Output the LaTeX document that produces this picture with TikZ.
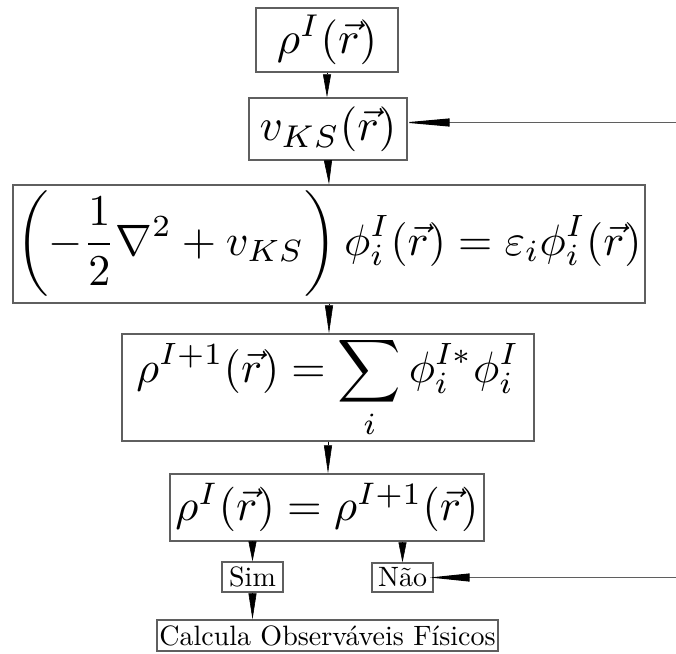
\documentclass[tikz,border=0pt]{standalone}
\usepackage{amsmath}
\usepackage{graphicx}
\usetikzlibrary{arrows.meta}
\definecolor{boxgray}{RGB}{95,95,95}
\newcommand\scmath[2]{\scalebox{#1}{#2}}
\newcommand\sctext[1]{\scalebox{2.8}{#1}}
\tikzset{
  box/.style={draw=boxgray, line width=1.4pt, inner sep=0pt, align=center},
  varr/.style={-{Triangle[length=#1,width=8pt,color=black]}, line width=0.6pt, black},
  varr/.default=24pt,
  harr/.style={-{Triangle[length=#1,width=8pt,color=black]}, line width=1pt, boxgray, shorten >=-4pt},
}
\begin{document}
\begin{tikzpicture}[x=1pt,y=-1pt]
\useasboundingbox (0,0) rectangle (676,653);
\node[box, minimum width=142pt, minimum height=64pt] (b1) at (327,40) {\scmath{4.5}{$\rho^I(\vec r)$}};
\node[box, minimum width=158pt, minimum height=62pt] (b2) at (328,129) {\scmath{4.5}{$v_{KS}(\vec r)$}};
\node[box, minimum width=632pt, minimum height=118pt] (b3) at (329,244) {\scmath{4.4}{$\displaystyle\left(-\frac{1}{2}\nabla^2+v_{KS}\right)\phi_i^I(\vec r)=\varepsilon_i\phi_i^I(\vec r)$}};
\node[box, minimum width=412pt, minimum height=107pt] (b4) at (328,387.5) {\scmath{4.4}{$\displaystyle\rho^{I+1}(\vec r)=\sum_i\phi_i^{I*}\phi_i^I$}};
\node[box, minimum width=314pt, minimum height=67pt] (b5) at (327,507.5) {\scmath{4.45}{$\rho^I(\vec r)=\rho^{I+1}(\vec r)$}};
\node[box, minimum width=61pt, minimum height=30pt] (sim) at (252.5,577) {\sctext{Sim}};
\node[box, minimum width=61pt, minimum height=29pt] (nao) at (402.5,577.5) {\sctext{Não}};
\node[box, minimum width=341pt, minimum height=31pt] (calc) at (327.5,635.5) {\sctext{Calcula Observáveis Físicos}};
\coordinate (r1) at (676,122.5);
\coordinate (r2) at (676,577.5);
\draw[varr=23pt] (b1.south) -- (b1.south |- b2.north);
\draw[varr=24pt] (b2.south) -- (b3.north);
\draw[varr=28pt] (b3.south) -- (b3.south |- b4.north);
\draw[varr=28pt] (b4.south) -- (b4.south |- b5.north);
\draw[varr=20pt] (b5.south -| sim.north) -- (sim.north);
\draw[varr=20pt] (b5.south -| nao.north) -- (nao.north);
\draw[varr=26pt] (sim.south) -- (sim.south |- calc.north);
\draw[harr=46pt] (r1) -- (r1 -| b2.east);
\draw[harr=40pt] (r2) -- (nao.east);
\end{tikzpicture}
\end{document}
